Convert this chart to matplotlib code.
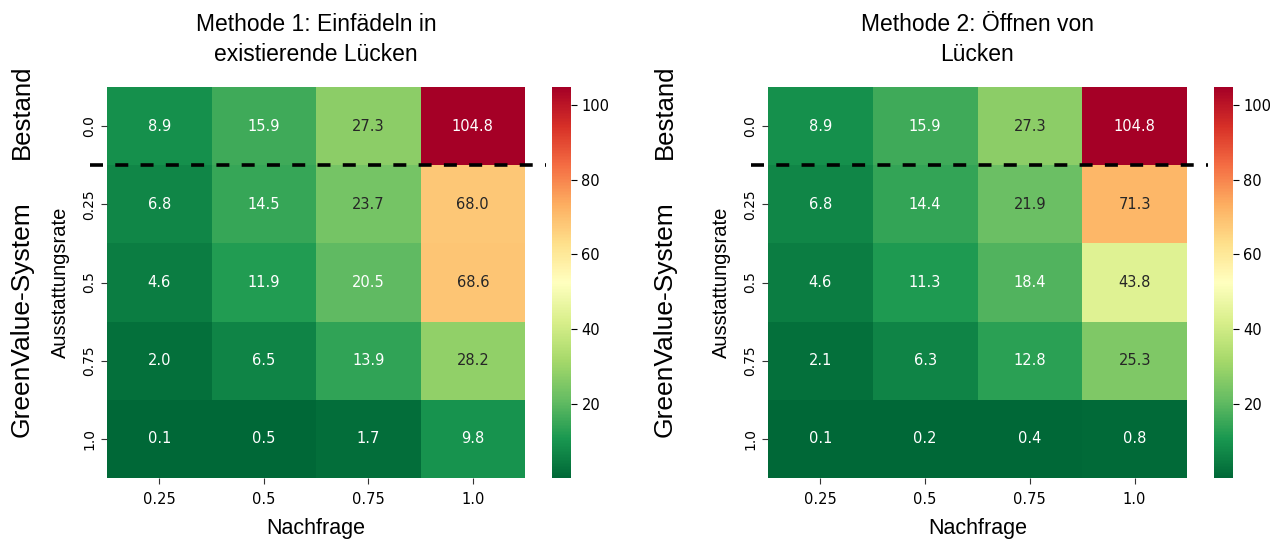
import numpy as np
import pandas as pd
import matplotlib
matplotlib.use("Agg")
import matplotlib.pyplot as plt
import seaborn as sns

# Demand levels (columns) and equipment rates (rows)
nachfrage = [0.25, 0.5, 0.75, 1.0]
ausstattungsrate = [0.0, 0.25, 0.5, 0.75, 1.0]

# Method 1: threading into existing gaps
methode1 = [
    [8.9, 15.9, 27.3, 104.8],
    [6.8, 14.5, 23.7, 68.0],
    [4.6, 11.9, 20.5, 68.6],
    [2.0, 6.5, 13.9, 28.2],
    [0.1, 0.5, 1.7, 9.8],
]

# Method 2: opening gaps
methode2 = [
    [8.9, 15.9, 27.3, 104.8],
    [6.8, 14.4, 21.9, 71.3],
    [4.6, 11.3, 18.4, 43.8],
    [2.1, 6.3, 12.8, 25.3],
    [0.1, 0.2, 0.4, 0.8],
]

titles = ["Methode 1: Einfädeln in\nexistierende Lücken",
          "Methode 2: Öffnen von\nLücken"]

W, H = 1273, 540
fig = plt.figure(figsize=(W / 100, H / 100), dpi=100)

LABEL_FONT = "Liberation Sans"


def px_rect(x0, y0, x1, y1):
    return [x0 / W, 1 - y1 / H, (x1 - x0) / W, (y1 - y0) / H]


panels = [
    dict(data=methode1, title=titles[0], ax=(107, 87, 525, 478), cb=(552, 87, 571, 478),
         side_x=22),
    dict(data=methode2, title=titles[1], ax=(768, 87, 1187, 478), cb=(1214, 87, 1233, 478),
         side_x=665),
]

for p in panels:
    ax = fig.add_axes(px_rect(*p["ax"]))
    cax = fig.add_axes(px_rect(*p["cb"]))
    df = pd.DataFrame(p["data"], index=ausstattungsrate, columns=nachfrage)
    sns.heatmap(df, ax=ax, cbar_ax=cax, cmap="RdYlGn_r", annot=True, fmt=".1f",
                annot_kws={"fontsize": 10.5})
    ax.set_title(p["title"], fontsize=16.5, family=LABEL_FONT, pad=19, linespacing=1.35)
    ax.set_xlabel("Nachfrage", fontsize=15.5, family=LABEL_FONT, labelpad=8)
    ax.set_ylabel("Ausstattungsrate", fontsize=14.5, family=LABEL_FONT, labelpad=9)
    ax.set_yticklabels([str(v) for v in ausstattungsrate], rotation=90, va="center",
                       fontsize=10)
    ax.set_xticklabels([str(v) for v in nachfrage], rotation=0, fontsize=10.5)
    ax.tick_params(axis="both", length=4, width=0.8, color="#333333")
    ax.tick_params(axis="x", pad=6)
    cax.tick_params(labelsize=10.5, length=4, width=0.8)
    cax.set_yticks([20, 40, 60, 80, 100])

    # separator between existing stock and GreenValue rows
    ax.plot([-0.04, 1.05], [0.8, 0.8], transform=ax.transAxes, color="black",
            lw=2.6, dashes=(3.6, 3.4), clip_on=False)

    # group labels on the left
    x0, y0, x1, y1 = p["ax"]
    row_h = (y1 - y0) / 5
    fig.text(p["side_x"] / W, 1 - (y0 + row_h * 0.5 - 14) / H, "Bestand",
             rotation=90, ha="center", va="center", fontsize=18.5, family=LABEL_FONT)
    fig.text(p["side_x"] / W, 1 - (y0 + row_h * 3 - 2) / H, "GreenValue-System",
             rotation=90, ha="center", va="center", fontsize=19, family=LABEL_FONT)

fig.savefig("out.png", dpi=100)
